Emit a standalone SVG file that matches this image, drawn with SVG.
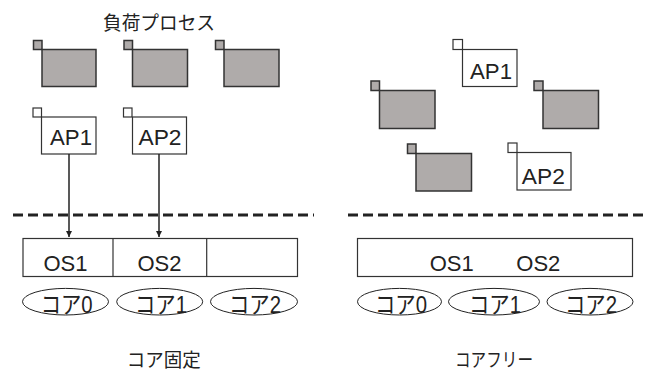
<svg xmlns="http://www.w3.org/2000/svg" width="653" height="369" viewBox="0 0 653 369">
<defs>
<style>
.t{font-family:"Liberation Sans","Noto Sans CJK JP",sans-serif;fill:#222;text-anchor:middle}
.ap{font-size:22px}
.os{font-size:22px}
.co{font-size:24px}
.g{fill:#afabaa;stroke:#333;stroke-width:1.5}
.w{fill:#fff;stroke:#333;stroke-width:1.2}
.ln{stroke:#222;stroke-width:1.5;fill:none}
.dash{stroke:#222;stroke-width:3;stroke-dasharray:10 5;fill:none}
.el{fill:#fff;stroke:#222;stroke-width:1}
</style>
<marker id="arr" viewBox="0 0 10 10" refX="10" refY="5" markerWidth="6" markerHeight="6" orient="auto" markerUnits="userSpaceOnUse"><path d="M0,0 L10,5 L0,10 z" fill="#222"/></marker>
</defs>
<rect width="653" height="369" fill="#fff"/>

<text class="t" x="159" y="30" font-size="19" textLength="112" lengthAdjust="spacingAndGlyphs">負荷プロセス</text>

<g id="load1"><rect class="g" x="33.5" y="40.5" width="8.5" height="9"/><rect class="g" x="42" y="49.5" width="54" height="37"/></g>
<g id="load2"><rect class="g" x="124" y="40.5" width="8.5" height="9"/><rect class="g" x="132.5" y="49.5" width="55" height="37"/></g>
<g id="load3"><rect class="g" x="215.5" y="40.5" width="8.5" height="9"/><rect class="g" x="224" y="49.5" width="55" height="37"/></g>

<g id="ap1L"><rect class="w" x="33" y="108" width="8.5" height="9"/><rect class="w" x="41.5" y="117" width="54.5" height="37"/><text class="t ap" x="71" y="145" textLength="42" lengthAdjust="spacingAndGlyphs">AP1</text></g>
<g id="ap2L"><rect class="w" x="123.5" y="108" width="8.5" height="9"/><rect class="w" x="132.5" y="117" width="54" height="37"/><text class="t ap" x="160" y="145" textLength="43" lengthAdjust="spacingAndGlyphs">AP2</text></g>

<g id="connectors">
<line class="ln" x1="69" y1="154" x2="69" y2="237" marker-end="url(#arr)"/>
<line class="ln" x1="159" y1="154" x2="159" y2="237" marker-end="url(#arr)"/>
</g>

<line class="dash" x1="13" y1="215" x2="314" y2="215"/>
<line class="dash" x1="348" y1="215" x2="647" y2="215"/>

<g id="osL">
<rect class="w" x="23" y="238.5" width="274.5" height="38"/>
<line class="w" x1="113" y1="238.5" x2="113" y2="276.5"/>
<line class="w" x1="206.7" y1="238.5" x2="206.7" y2="276.5"/>
<text class="t os" x="65.5" y="270.5">OS1</text>
<text class="t os" x="159.5" y="270.5">OS2</text>
</g>

<g id="coreL0"><ellipse class="el" cx="65.5" cy="301.7" rx="43" ry="13.3"/><text class="t co" x="66.7" y="313" textLength="52" lengthAdjust="spacingAndGlyphs">コア0</text></g>
<g id="coreL1"><ellipse class="el" cx="159.7" cy="301.7" rx="43" ry="13.3"/><text class="t co" x="161" y="313" textLength="52" lengthAdjust="spacingAndGlyphs">コア1</text></g>
<g id="coreL2"><ellipse class="el" cx="254" cy="301.7" rx="43.5" ry="13.3"/><text class="t co" x="255" y="313" textLength="52" lengthAdjust="spacingAndGlyphs">コア2</text></g>

<text class="t" x="163.7" y="366.5" font-size="19" textLength="74" lengthAdjust="spacingAndGlyphs">コア固定</text>

<g id="ap1R"><rect class="w" x="453" y="39.5" width="9.5" height="10"/><rect class="w" x="462.5" y="49.5" width="54.5" height="37"/><text class="t ap" x="491" y="78.5" textLength="42" lengthAdjust="spacingAndGlyphs">AP1</text></g>
<g id="loadR1"><rect class="g" x="371" y="81" width="8.5" height="9.5"/><rect class="g" x="379.5" y="90.5" width="55.5" height="38"/></g>
<g id="loadR2"><rect class="g" x="534" y="81" width="9" height="9.5"/><rect class="g" x="543" y="90.5" width="55.5" height="38"/></g>
<g id="loadR3"><rect class="g" x="407.5" y="144" width="8.5" height="9.5"/><rect class="g" x="416" y="153.5" width="55.5" height="37.5"/></g>
<g id="ap2R"><rect class="w" x="508" y="143" width="9" height="9.5"/><rect class="w" x="517" y="152.5" width="54" height="37.5"/><text class="t ap" x="543.3" y="183.5" textLength="43" lengthAdjust="spacingAndGlyphs">AP2</text></g>

<g id="osR">
<rect class="w" x="357.5" y="238.5" width="275" height="38"/>
<text class="t os" x="451.7" y="270.5">OS1</text>
<text class="t os" x="538.3" y="270.5">OS2</text>
</g>

<g id="coreR0"><ellipse class="el" cx="399.5" cy="301.7" rx="42" ry="13.3"/><text class="t co" x="401" y="313" textLength="52" lengthAdjust="spacingAndGlyphs">コア0</text></g>
<g id="coreR1"><ellipse class="el" cx="494" cy="301.7" rx="45.5" ry="13.3"/><text class="t co" x="495" y="313" textLength="52" lengthAdjust="spacingAndGlyphs">コア1</text></g>
<g id="coreR2"><ellipse class="el" cx="590" cy="301.7" rx="43" ry="13.3"/><text class="t co" x="591" y="313" textLength="52" lengthAdjust="spacingAndGlyphs">コア2</text></g>

<text class="t" x="494" y="366.5" font-size="19" textLength="78" lengthAdjust="spacingAndGlyphs">コアフリー</text>
</svg>
